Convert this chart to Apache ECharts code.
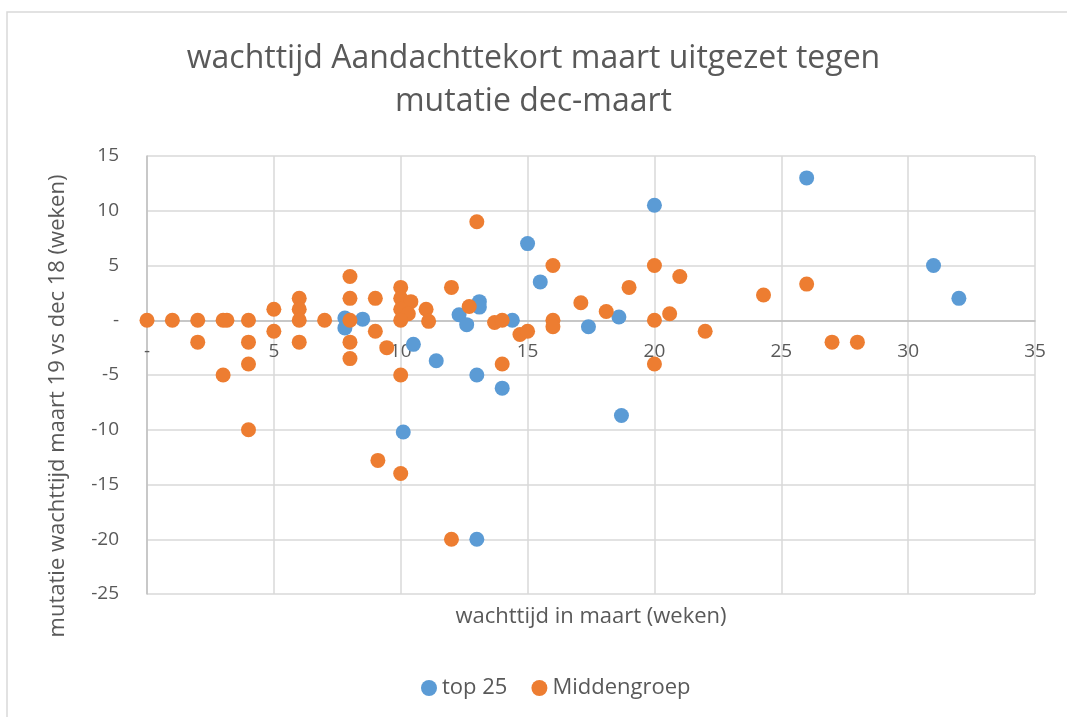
<!DOCTYPE html>
<html>
<head>
<meta charset="utf-8">
<script src="https://cdn.jsdelivr.net/npm/echarts@6/dist/echarts.min.js"></script>
<style>
html, body { margin: 0; padding: 0; background: #fff; }
#chart { width: 1067px; height: 717px; }
</style>
</head>
<body>
<div id="chart"></div>
<script>
// wachttijd maart (x) tegen mutatie dec-maart (y)
var top25 = [
	[7.8, 0.2], [7.8, -0.7], [8.5, 0.1], [10.1, -10.2], [10.5, -2.2], [11.4, -3.7],
	[12.3, 0.5], [12.6, -0.4], [13.1, 1.7], [13.1, 1.2], [13, -5], [13, -20],
	[14, -6.2], [14.4, 0], [15, 7], [15.5, 3.5], [17.4, -0.6], [18.6, 0.3],
	[18.7, -8.7], [20, 10.5], [26, 13], [31, 5], [32, 2]
];
var middengroep = [
	[0, 0], [1, 0], [2, 0], [2, -2], [3, 0], [3.15, 0], [3, -5], [4, 0], [4, -2],
	[4, -4], [4, -10], [5, 1], [5, -1], [6, 2], [6, 1], [6, 0], [6, -2], [7, 0],
	[8, 4], [8, 2], [8, 0], [8, -2], [8, -3.5], [9, 2], [9, -1], [9.45, -2.5],
	[9.1, -12.8], [10, 3], [10, 2], [10.4, 1.7], [10, 1], [10.3, 0.6], [10, 0],
	[10, -5], [10, -14], [11, 1], [11.1, -0.1], [12, 3], [12, -20], [12.7, 1.25],
	[13, 9], [13.7, -0.2], [14, 0], [14, -4], [14.7, -1.3], [15, -1], [16, 5],
	[16, 0], [16, -0.6], [17.1, 1.6], [18.1, 0.8], [19, 3], [20, 5], [20, 0],
	[20, -4], [20.6, 0.6], [21, 4], [22, -1], [24.3, 2.3], [26, 3.3], [27, -2], [28, -2]
];
var seriesNames = ['top 25', 'Middengroep'];
var titleText = 'wachttijd Aandachttekort maart uitgezet tegen\nmutatie dec-maart';
var xName = 'wachttijd in maart (weken)';
var yName = 'mutatie wachttijd maart 19 vs dec 18 (weken)';

function tickFmt(v){
	return v === 0 ? '-' : String(v);		// Excel toont 0 als "-"
}

function initScatter(){
	var myChart = echarts.init(document.getElementById('chart'));
	var font = '"Open Sans", Lato, sans-serif';
	var gridTop = 156, gridBottom = 123, yMin = -25, yMax = 15;
	// x-as ligt op y = 0: verschuif de as vanaf de onderrand naar de nullijn
	var plotH = 717 - gridTop - gridBottom;
	var zeroOffset = -plotH * (0 - yMin) / (yMax - yMin);
	var options = {
		animation : false,
		color : ['#5B9BD5', '#ED7D31'],
		textStyle : { fontFamily : font },
		title : {
			text : titleText,
			left : 'center',
			top : 32,
			textStyle : { fontSize : 32, fontWeight : 'normal', color : '#595959', lineHeight : 43, fontFamily : font }
		},
		legend : {
			bottom : 13,
			left : 416,
			itemGap : 24,
			itemWidth : 16,
			itemHeight : 16,
			icon : 'circle',
			data : seriesNames,
			textStyle : { fontSize : 22, color : '#595959', fontFamily : font }
		},
		grid : { left : 147, right : 32, top : gridTop, bottom : gridBottom },
		xAxis : {
			type : 'value',
			min : 0, max : 35, interval : 5,
			position : 'bottom',
			offset : zeroOffset,
			axisLine : { onZero : false, lineStyle : { color : '#bfbfbf', width : 1.5 } },
			axisTick : { show : false },
			axisLabel : { formatter : tickFmt, fontSize : 19, color : '#595959', margin : 22 },
			splitLine : { lineStyle : { color : '#d9d9d9', width : 1.5 } }
		},
		yAxis : {
			type : 'value',
			min : yMin, max : yMax, interval : 5,
			axisLine : { show : true, onZero : false, lineStyle : { color : '#bfbfbf', width : 1.5 } },
			axisTick : { show : false },
			axisLabel : { formatter : tickFmt, fontSize : 19, color : '#595959', margin : 28 },
			splitLine : { lineStyle : { color : '#d9d9d9', width : 1.5 } }
		},
		graphic : [
			{ type : 'rect', shape : { x : 7, y : 12, width : 1080, height : 730 }, style : { fill : 'none', stroke : '#d9d9d9', lineWidth : 1.5 }, silent : true },
			{ type : 'text', x : 591, y : 617, style : { text : xName, fill : '#595959', font : '22px ' + font, align : 'center', verticalAlign : 'middle' } },
			{ type : 'text', x : 58, y : 406, rotation : Math.PI / 2, style : { text : yName, fill : '#595959', font : '22px ' + font, align : 'center', verticalAlign : 'middle' } }
		],
		series : [
			{ name : seriesNames[0], type : 'scatter', symbolSize : 15, itemStyle : { opacity : 1 }, data : top25 },
			{ name : seriesNames[1], type : 'scatter', symbolSize : 15, itemStyle : { opacity : 1 }, data : middengroep }
		]
	};
	myChart.setOption(options);
}
initScatter();
</script>
</body>
</html>
